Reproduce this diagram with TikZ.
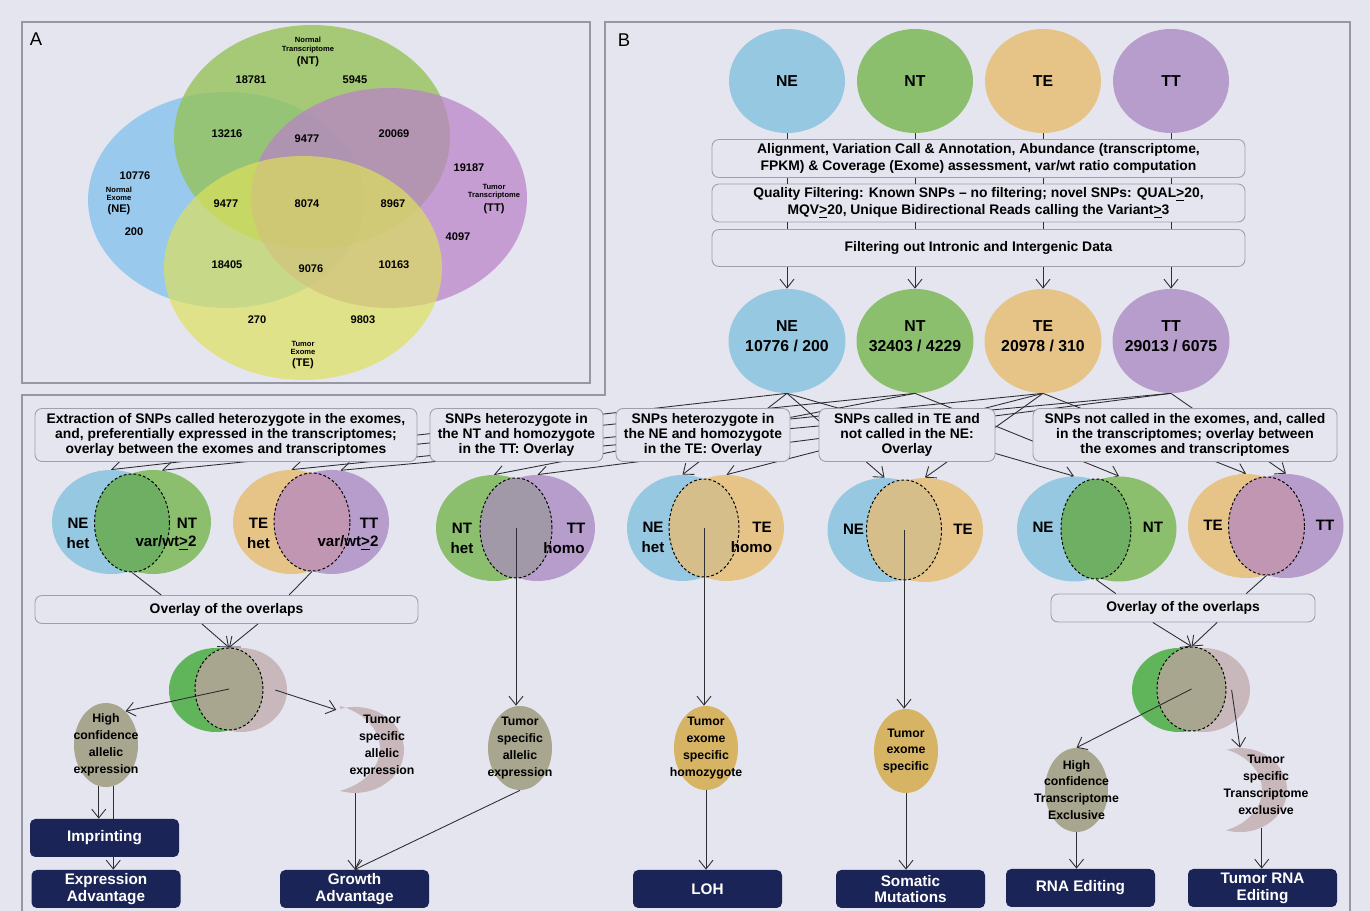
\documentclass[tikz,border=0pt]{standalone}
\usepackage{fontspec}
\setmainfont{Liberation Sans}
\usetikzlibrary{arrows.meta,shapes.geometric,calc}
\definecolor{bg}{RGB}{229,229,239}
\definecolor{frame}{RGB}{150,150,165}
\definecolor{boxc}{RGB}{160,160,172}
\definecolor{linec}{RGB}{45,45,50}
\definecolor{Ablue}{RGB}{140,197,237}
\definecolor{Agreen}{RGB}{150,195,90}
\definecolor{Apurple}{RGB}{185,130,200}
\definecolor{Ayellow}{RGB}{222,226,90}
\definecolor{cNE}{RGB}{150,200,226}
\definecolor{cNT}{RGB}{139,191,110}
\definecolor{cTE}{RGB}{230,196,136}
\definecolor{cTT}{RGB}{183,157,203}
\definecolor{ovNN}{RGB}{110,175,99}
\definecolor{ovTT}{RGB}{193,150,179}
\definecolor{ovNTT}{RGB}{161,153,167}
\definecolor{ovNTE}{RGB}{214,190,138}
\definecolor{cvg}{RGB}{96,181,90}
\definecolor{cvp}{RGB}{200,184,188}
\definecolor{olive}{RGB}{168,166,142}
\definecolor{gold}{RGB}{214,180,100}
\definecolor{navy}{RGB}{27,36,86}
\pgfdeclarelayer{bgl}
\pgfdeclarelayer{back}
\pgfsetlayers{bgl,back,main}
\tikzset{
  sz/.style 2 args={minimum width={#1*0.02cm}, minimum height={#2*0.02cm}},
  fr/.style={draw=frame, line width=0.6pt},
  bx/.style={draw=boxc, fill=bg, rounded corners=4pt, line width=0.5pt, align=center, inner sep=0pt,
    font=\fontsize{7.9}{9.5}\selectfont\bfseries},
  bxs/.style={bx, font=\fontsize{7.9}{8.6}\selectfont\bfseries},
  nv/.style={fill=navy, rounded corners=3pt, text=white, align=center, inner sep=0pt,
    sz={149}{38}, font=\fontsize{8.7}{9.6}\selectfont\bfseries},
  el/.style={ellipse, inner sep=0pt},
  big/.style={font=\fontsize{9}{11.4}\selectfont\bfseries, align=center, inner sep=0pt},
  conn/.style={draw=linec, line width=0.5pt},
  arr/.style={conn, -{Straight Barb[length=5pt,width=8pt]}},
  dsh/.style={draw=black, dash pattern=on 1.6pt off 1.2pt, line width=0.55pt},
  vl/.style={font=\fontsize{8.6}{10}\selectfont\bfseries, inner sep=0pt},
  num/.style={font=\fontsize{6.3}{7}\selectfont\bfseries, inner sep=0pt},
  tiny/.style={align=center, inner sep=0pt, font=\fontsize{4.3}{4.6}\selectfont\bfseries},
  sm/.style={font=\fontsize{7}{9.6}\selectfont\bfseries, align=center, inner sep=0pt},
  ttl/.style={font=\fontsize{10.5}{12}\selectfont, inner sep=0pt},
}
\begin{document}
\begin{tikzpicture}[x=0.02cm,y=-0.02cm]
\useasboundingbox (0,0) rectangle (1370,911);
\begin{pgfonlayer}{bgl}
\fill[bg] (0,0) rectangle (1370,911);
\end{pgfonlayer}

% ---------------- Panel A ----------------
\draw[fr] (22,22) rectangle (590,383);
\node[ttl] (tA) at (36,39) {A};
\fill[Ablue, fill opacity=0.85] (226,200) ellipse [x radius=2.76cm, y radius=2.16cm];
\fill[Agreen, fill opacity=0.8] (312,137) ellipse [x radius=2.76cm, y radius=2.24cm];
\fill[Apurple, fill opacity=0.72] (389,198) ellipse [x radius=2.76cm, y radius=2.2cm];
\fill[Ayellow, fill opacity=0.68] (303,268) ellipse [x radius=2.78cm, y radius=2.24cm];
\node[tiny] (lNT) at (308,52) {Normal\\Transcriptome\\[1pt]{\fontsize{6.3}{7}\selectfont (NT)}};
\node[tiny] (lNE) at (119,201) {Normal\\Exome\\[1pt]{\fontsize{6.3}{7}\selectfont (NE)}};
\node[tiny] (lTT) at (494,199) {Tumor\\Transcriptome\\[1pt]{\fontsize{6.3}{7}\selectfont (TT)}};
\node[tiny] (lTE) at (303,355) {Tumor\\Exome\\[1pt]{\fontsize{6.3}{7}\selectfont (TE)}};
\node[num] (a1) at (251,80) {18781};
\node[num] (a2) at (355,80) {5945};
\node[num] (a3) at (227,134) {13216};
\node[num] (a4) at (307,139) {9477};
\node[num] (a5) at (394,134) {20069};
\node[num] (a6) at (135,176) {10776};
\node[num] (a7) at (226,204) {9477};
\node[num] (a8) at (307,204) {8074};
\node[num] (a9) at (393,204) {8967};
\node[num] (a10) at (469,168) {19187};
\node[num] (a11) at (134,232) {200};
\node[num] (a12) at (458,237) {4097};
\node[num] (a13) at (227,265) {18405};
\node[num] (a14) at (311,269) {9076};
\node[num] (a15) at (394,265) {10163};
\node[num] (a16) at (257,320) {270};
\node[num] (a17) at (363,320) {9803};

% ---------------- Panel B frame ----------------
\draw[fr] (22,911) -- (22,395) -- (605,395) -- (605,22) -- (1350,22) -- (1350,911);
\node[ttl] (tB) at (624,40) {B};

% top ellipses
\node[el, fill=cNE, sz={116}{104}, big] (e1) at (787,81) {NE};
\node[el, fill=cNT, sz={116}{104}, big] (e2) at (915,81) {NT};
\node[el, fill=cTE, sz={116}{104}, big] (e3) at (1043,81) {TE};
\node[el, fill=cTT, sz={116}{104}, big] (e4) at (1171,81) {TT};

\node[bx, sz={533}{38}] (b1) at (978.5,158.5) {Alignment, Variation Call \& Annotation, Abundance (transcriptome,\\FPKM) \& Coverage (Exome) assessment, var/wt ratio computation};
\node[bx, sz={533}{38}] (b2) at (978.5,203) {Quality Filtering: Known SNPs – no filtering; novel SNPs: QUAL\underline{>}20,\\MQV\underline{>}20, Unique Bidirectional Reads calling the Variant\underline{>}3};
\node[bx, sz={533}{37}] (b3) at (978.5,248) {Filtering out Intronic and Intergenic Data};

\node[el, fill=cNE, sz={117}{104}, label={[big, yshift=0.09cm]center:NE\\10776 / 200}] (f1) at (787,341) {};
\node[el, fill=cNT, sz={117}{104}, label={[big, yshift=0.09cm]center:NT\\32403 / 4229}] (f2) at (915,341) {};
\node[el, fill=cTE, sz={117}{104}, label={[big, yshift=0.09cm]center:TE\\20978 / 310}] (f3) at (1043,341) {};
\node[el, fill=cTT, sz={117}{104}, label={[big, yshift=0.09cm]center:TT\\29013 / 6075}] (f4) at (1171,341) {};

\foreach \i in {1,...,4}{
  \draw[conn] (e\i.south) -- (e\i.south |- b1.north);
  \draw[conn] (e\i |- b1.south) -- (e\i |- b2.north);
  \draw[conn] (e\i |- b2.south) -- (e\i |- b3.north);
  \draw[arr] (e\i |- b3.south) -- (f\i.north);
}

% category boxes
\node[bxs, sz={382}{53}] (c1) at (226,435) {Extraction of SNPs called heterozygote in the exomes,\\and, preferentially expressed in the transcriptomes;\\overlay between the exomes and transcriptomes};
\node[bxs, sz={173}{53}] (c2) at (516.5,435) {SNPs heterozygote in\\the NT and homozygote\\in the TT: Overlay};
\node[bxs, sz={174}{53}] (c3) at (703,435) {SNPs heterozygote in\\the NE and homozygote\\in the TE: Overlay};
\node[bxs, sz={176}{53}] (c4) at (907,435) {SNPs called in TE and\\not called in the NE:\\Overlay};
\node[bxs, sz={304}{53}] (c5) at (1185,435) {SNPs not called in the exomes, and, called\\in the transcriptomes; overlay between\\the exomes and transcriptomes};

% small Venn diagrams
\node[el, fill=cNE, sz={118}{104}] (v1a) at (111,522) {};
\node[el, fill=cNT, sz={116}{104}] (v1b) at (153,522) {};
\node[el, fill=ovNN, dsh, sz={75}{98}] (d1) at (132,523) {};
\node[vl] (l1a) at (78,523) {NE};
\node[vl] (l1b) at (78,543) {het};
\node[vl] (l1c) at (187,523) {NT};
\node[vl] (l1d) at (166,543) {var/wt\underline{>}2};

\node[el, fill=cTE, sz={117}{104}] (v2a) at (291.5,522) {};
\node[el, fill=cTT, sz={115}{104}] (v2b) at (331.5,522) {};
\node[el, fill=ovTT, dsh, sz={76}{98}] (d2) at (312,522) {};
\node[vl] (l2a) at (258.5,523) {TE};
\node[vl] (l2b) at (258.5,543) {het};
\node[vl] (l2c) at (369,523) {TT};
\node[vl] (l2d) at (348,543) {var/wt\underline{>}2};

\node[el, fill=cNT, sz={116}{106}] (v3a) at (494,528) {};
\node[el, fill=cTT, sz={115}{106}] (v3b) at (537.5,528) {};
\node[el, fill=ovNTT, dsh, sz={72}{100}] (d3) at (516,528) {};
\node[vl] (l3a) at (462,528) {NT};
\node[vl] (l3b) at (462,548) {het};
\node[vl] (l3c) at (576,528) {TT};
\node[vl] (l3d) at (564,548) {homo};

\node[el, fill=cNE, sz={111}{106}] (v4a) at (682.5,528) {};
\node[el, fill=cTE, sz={115}{106}] (v4b) at (726.5,528) {};
\node[el, fill=ovNTE, dsh, sz={70}{98}] (d4) at (704,528) {};
\node[vl] (l4a) at (653,527) {NE};
\node[vl] (l4b) at (653,547) {het};
\node[vl] (l4c) at (762,527) {TE};
\node[vl] (l4d) at (751.5,547) {homo};

\node[el, fill=cNE, sz={114}{104}] (v5a) at (884.5,530) {};
\node[el, fill=cTE, sz={116}{104}] (v5b) at (925,530) {};
\node[el, fill=ovNTE, dsh, sz={75}{100}] (d5) at (904,530) {};
\node[vl] (l5a) at (853.5,529) {NE};
\node[vl] (l5b) at (963,529) {TE};

\node[el, fill=cNE, sz={114}{105}] (v6a) at (1074,529) {};
\node[el, fill=cNT, sz={115}{105}] (v6b) at (1119,529) {};
\node[el, fill=ovNN, dsh, sz={70}{100}] (d6) at (1096,529) {};
\node[vl] (l6a) at (1043,527) {NE};
\node[vl] (l6b) at (1153,527) {NT};

\node[el, fill=cTE, sz={116}{104}] (v7a) at (1246,526) {};
\node[el, fill=cTT, sz={115}{104}] (v7b) at (1286,526) {};
\node[el, fill=ovTT, dsh, sz={76}{98}] (d7) at (1266.5,526) {};
\node[vl] (l7a) at (1213,525) {TE};
\node[vl] (l7b) at (1325,525) {TT};

% overlay boxes
\node[bx, sz={383}{28}] (o1) at (226.5,609.5) {Overlay of the overlaps};
\node[bx, sz={264}{28}] (o2) at (1183,608) {Overlay of the overlaps};

% combined Venns
\node[el, fill=cvg, sz={94}{84}] (cv1g) at (216,690) {};
\node[el, fill=cvp, sz={92}{84}] (cv1p) at (241,690) {};
\node[el, fill=olive, dsh, sz={68}{82}] (cv1d) at (229,689) {};
\node[el, fill=cvg, sz={94}{84}] (cv2g) at (1179,690) {};
\node[el, fill=cvp, sz={93}{84}] (cv2p) at (1203.5,690) {};
\node[el, fill=olive, dsh, sz={69}{84}] (cv2d) at (1191.5,689) {};

% result ellipses
\node[el, fill=olive, sz={64}{84}, label={[sm]center:High\\confidence\\allelic\\expression}] (h1) at (106,745) {};
\node[el, fill=olive, sz={64}{84}, label={[sm]center:Tumor\\specific\\allelic\\expression}] (h2) at (520,748) {};
\node[el, fill=gold, sz={64}{84}, label={[sm]center:Tumor\\exome\\specific\\homozygote}] (h3) at (706,748) {};
\node[el, fill=gold, sz={64}{84}, label={[sm]center:Tumor\\exome\\specific}] (h4) at (906,751) {};
\node[el, fill=olive, sz={63}{84}, label={[sm]center:High\\confidence\\Transcriptome\\Exclusive}] (h5) at (1076.5,790) {};

% crescents
\fill[cvp] (340,709) arc[start angle=107.8, end angle=-107.8, x radius=0.98cm, y radius=0.86cm]
                     arc[start angle=-70.5, end angle=70.5, x radius=1.2cm, y radius=0.9cm] -- cycle;
\node[el, sz={98}{86}] (cr1) at (355,750) {};
\node[sm] (cr1t) at (382,746) {Tumor\\specific\\allelic\\expression};
\fill[cvp] (1226,750) arc[start angle=107.3, end angle=-107.3, x radius=0.94cm, y radius=0.84cm]
                      arc[start angle=-69.8, end angle=69.8, x radius=1.1cm, y radius=0.86cm] -- cycle;
\node[el, sz={94}{84}] (cr2) at (1240,790) {};
\node[sm] (cr2t) at (1266,785) {Tumor\\specific\\Transcriptome\\exclusive};

% outcome boxes
\node[nv] (imp) at (104.5,838) {Imprinting};
\node[nv] (ea) at (106,889) {Expression\\Advantage};
\node[nv] (ga) at (354.5,889) {Growth\\Advantage};
\node[nv] (loh) at (707.5,889) {LOH};
\node[nv] (smut) at (910.5,889) {Somatic\\Mutations};
\node[nv] (rna) at (1080.5,888) {RNA Editing};
\node[nv] (trna) at (1262.5,888) {Tumor RNA\\Editing};

% ---------- connectors behind the boxes ----------
\begin{pgfonlayer}{back}
\draw[arr] (f1.south) -- (v1a.north);
\draw[arr] (f2.south) -- (v1b.80);
\draw[arr] (f3.south) -- (v2a.north);
\draw[arr] (f4.south) -- (v2b.80);
\draw[arr] (f2.south) -- (v3a.north);
\draw[arr] (f4.south) -- (v3b.north);
\draw[arr] (f1.south) -- (v4a.north);
\draw[arr] (f3.south) -- (v4b.north);
\draw[arr] (f1.south) -- (v5a.north);
\draw[arr] (f3.south) -- (v5b.north);
\draw[arr] (f1.south) -- (v6a.north);
\draw[arr] (f2.south) -- (v6b.north);
\draw[arr] (f3.south) -- (v7a.north);
\draw[arr] (f4.south) -- (v7b.north);
\draw[arr] (h1.280) -- (h1.280 |- ea.north);
\end{pgfonlayer}

% ---------- connectors on top ----------
\draw[conn] (d1.south) -- ($(o1.north west)!0.33!(o1.north east)$);
\draw[conn] (d2.south) -- ($(o1.north west)!0.663!(o1.north east)$);
\draw[conn] (d6.south) -- ($(o2.north west)!0.246!(o2.north east)$);
\draw[conn] (d7.south) -- ($(o2.north west)!0.739!(o2.north east)$);
\draw[arr] ($(o1.south west)!0.436!(o1.south east)$) -- (cv1d.north);
\draw[arr] ($(o1.south west)!0.582!(o1.south east)$) -- (cv1d.north);
\draw[arr] ($(o2.south west)!0.386!(o2.south east)$) -- (cv2d.north);
\draw[arr] ($(o2.south west)!0.629!(o2.south east)$) -- (cv2d.north);

\coordinate (cv1r) at ($(cv1p.center)!0.74!(cv1p.east)$);
\coordinate (cv2r) at ($(cv2p.center)!0.6!(cv2p.east)$);
\draw[arr] (cv1d.center) -- (h1.60);
\draw[arr] (cv1r) -- (cr1.115);
\draw[arr] (cv2d.center) -- (h5.north);
\draw[arr] (cv2r) -- (cr2.north);

\draw[arr] (h1.260) -- (h1.260 |- imp.north);
\draw[arr] (cr1.south) -- (cr1.south |- ga.north);
\draw[arr] (d3.center) -- (d3.center |- h2.north);
\draw[arr] (h2.south) -- (ga.north);
\draw[arr] (d4.center) -- (d4.center |- h3.north);
\draw[arr] (h3.south) -- (h3.south |- loh.north);
\draw[arr] (d5.center) -- (d5.center |- h4.north);
\draw[arr] (h4.south) -- (h4.south |- smut.north);
\draw[arr] (h5.south) -- (h5.south |- rna.north);
\draw[arr] (cr2.300) -- (cr2.300 |- trna.north);
\end{tikzpicture}
\end{document}
